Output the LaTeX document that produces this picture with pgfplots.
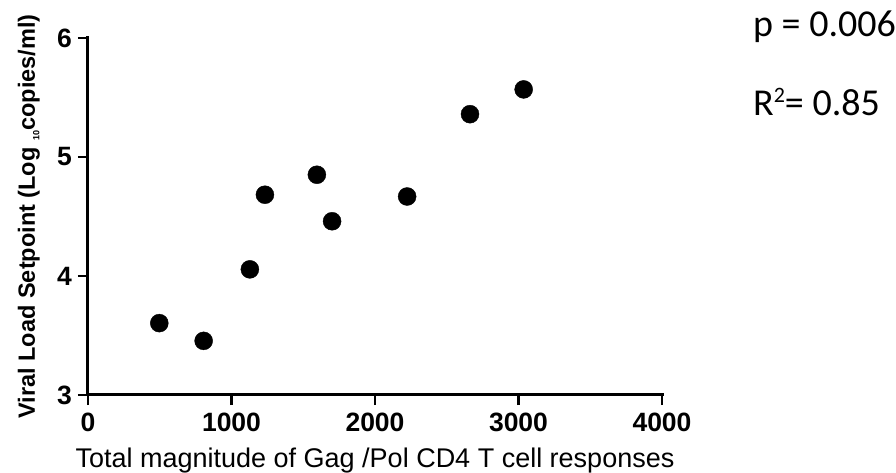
\documentclass[border=0pt]{standalone}
\usepackage{fontspec}
\setmainfont{Liberation Sans}
\newfontfamily\calib{Carlito}
\usepackage{pgfplots}
\pgfplotsset{compat=1.18}
\begin{document}
\begin{tikzpicture}
\useasboundingbox (-88pt,-78pt) rectangle (808pt,395pt);
\begin{axis}[
  anchor=south west, at={(0pt,0pt)},
  scale only axis, width=574pt, height=357pt,
  xmin=0, xmax=4000, ymin=3, ymax=6,
  axis x line=bottom, axis y line=left,
  x axis line style={-}, y axis line style={-},
  axis line style={line width=3pt, black, line cap=rect},
  xtick={0,1000,2000,3000,4000}, ytick={3,4,5,6},
  minor tick num=0,
  tick align=outside, major tick length=10pt,
  tick style={line width=2.5pt, black},
  /pgf/number format/assume math mode=true,
  /pgf/number format/set thousands separator={},
  tick label style={font=\fontsize{26.5}{30}\selectfont\bfseries},
  xticklabel style={inner sep=8pt},
  yticklabel style={inner sep=6pt},
  xlabel={Total magnitude of Gag /Pol CD4 T cell responses},
  ylabel={Viral Load Setpoint (Log \raisebox{-0.35ex}{\fontsize{9}{9}\selectfont 10}copies/ml)},
  every axis x label/.style={at={([yshift=-73pt]rel axis cs:0.5,0)}, anchor=base, font=\fontsize{27}{31}\selectfont},
  every axis y label/.style={at={([xshift=-53pt]rel axis cs:0,0.5)}, anchor=base, rotate=90, font=\fontsize{23.5}{28}\selectfont\bfseries},
  clip=false,
]
\addplot[only marks, mark=*, mark size=9pt, black] coordinates {
  (497,3.604)
  (806,3.455)
  (1128,4.056)
  (1233,4.683)
  (1595,4.851)
  (1701,4.460)
  (2224,4.668)
  (2662,5.360)
  (3036,5.568)
};
\end{axis}
\node[anchor=base west, inner sep=0pt, font=\calib\fontsize{38}{44}\selectfont] at (665pt,358pt) {p = 0.006};
\node[anchor=base west, inner sep=0pt, font=\calib\fontsize{38}{44}\selectfont] at (665pt,279pt) {R\raisebox{0.75ex}{\fontsize{22}{22}\selectfont 2}= 0.85};
\end{tikzpicture}
\end{document}
